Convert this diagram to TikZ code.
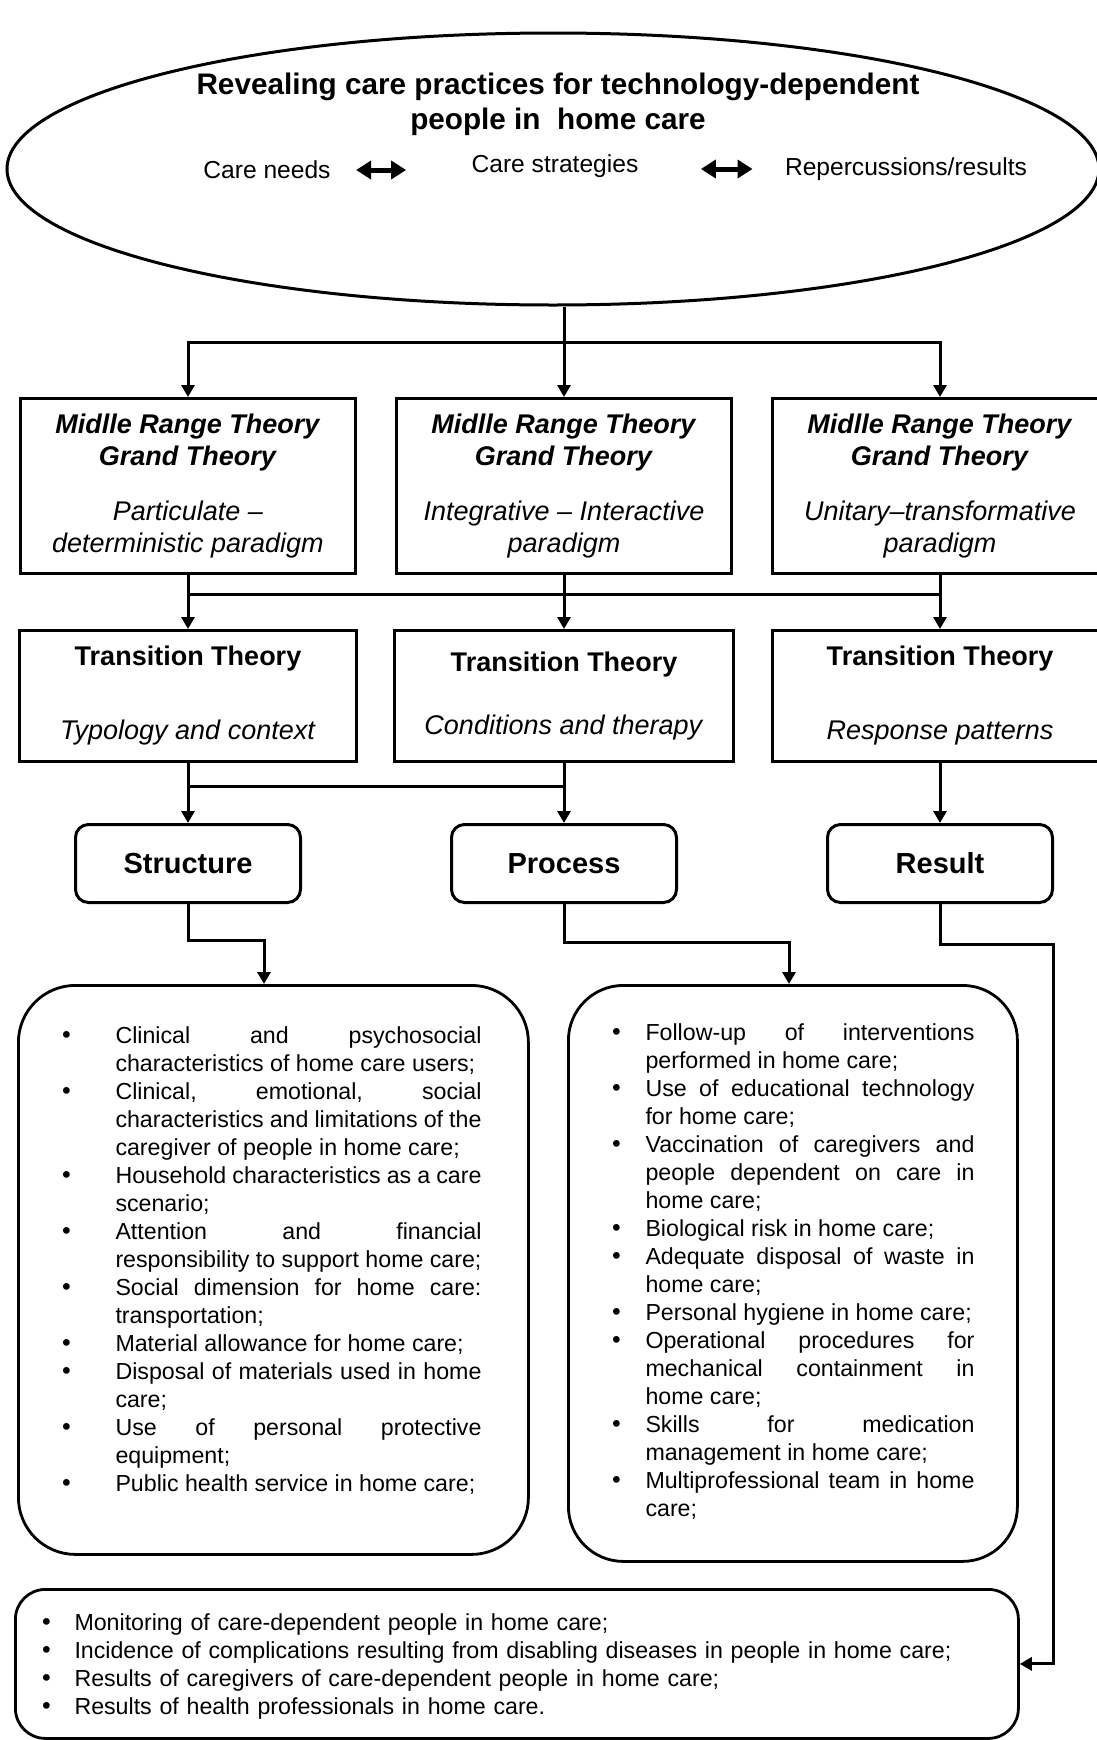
\documentclass[tikz,border=0pt]{standalone}
\usepackage{fontspec}
\setmainfont{Liberation Sans}
\newfontfamily\bulfont{DejaVu Sans}
\usetikzlibrary{arrows.meta,shapes.geometric,calc}

\hyphenpenalty=10000
\exhyphenpenalty=10000
\tolerance=10000
\hbadness=10000

\newcommand\bitem[2]{\noindent\hangindent=#1\hangafter=1\hbox to #1{\hskip-3pt{\bulfont •}\hfil}#2\par}
\newcommand\thy[1]{\textbf{\textit{#1}}}

\begin{document}
\begin{tikzpicture}[x=1pt,y=-1pt,line width=3pt,
    >={Triangle[length=12pt,width=13pt]},
    paradigm/.style={draw,anchor=north west,minimum width=335pt,minimum height=175pt,inner sep=0pt,align=center,font=\fontsize{27}{32}\selectfont},
    transition/.style={draw,anchor=north west,minimum height=131pt,inner sep=0pt,align=center,font=\fontsize{27}{32}\selectfont},
    stage/.style={draw,rounded corners=13pt,anchor=north west,minimum width=225pt,minimum height=78pt,inner sep=0pt,font=\fontsize{29}{34}\selectfont\bfseries},
    listbox/.style={draw,line width=2.8pt,anchor=north west,inner sep=0pt},
    listtext/.style={anchor=north west,inner sep=0pt,font=\fontsize{23.2}{28}\selectfont},
    dbl/.style={line width=5pt,arrows={Triangle[length=15pt,width=18pt]-Triangle[length=15pt,width=18pt]}}]
        \useasboundingbox (0,0) rectangle (1097,1740);

        % top ellipse
        \node[draw,ellipse,minimum width=1092pt,minimum height=272pt,inner sep=0pt] (top) at (553,169) {};
        \node[align=center,font=\fontsize{29.7}{35}\selectfont\bfseries] (title) at (558,104) {Revealing care practices for technology-dependent\\people in\ \ home care};
        \node[inner sep=0pt,font=\fontsize{24.6}{29}\selectfont] (need) at (267,170) {Care needs};
        \node[inner sep=0pt,font=\fontsize{24.6}{29}\selectfont] (strat) at (555,166) {Care strategies};
        \node[inner sep=0pt,font=\fontsize{24.6}{29}\selectfont] (rep) at (906,169) {Repercussions/results};
        \draw[dbl,shorten <=24pt,shorten >=64pt] (need.east) -- (need.east -| strat.west);
        \draw[dbl,shorten <=61pt,shorten >=31pt] (rep.west -| strat.east) -- (rep.west);

        \coordinate (j1) at (0,342);
        \coordinate (j2) at (0,594);
        \coordinate (j3) at (0,786);
        \coordinate (k1) at (264,940);
        \coordinate (k2) at (789,942);
        \coordinate (k3) at (1053,944);

        % theories
        \node[paradigm] (m1) at (19,397) {\thy{Midlle Range Theory}\\\thy{Grand Theory}\\[23pt]\textit{Particulate –}\\\textit{deterministic paradigm}};
        \node[paradigm] (m2) at (395,397) {\thy{Midlle Range Theory}\\\thy{Grand Theory}\\[23pt]\textit{Integrative – Interactive}\\\textit{paradigm}};
        \node[paradigm] (m3) at (771,397) {\thy{Midlle Range Theory}\\\thy{Grand Theory}\\[23pt]\textit{Unitary–transformative}\\\textit{paradigm}};

        \node[transition,minimum width=337pt] (t1) at (18,629) {\textbf{Transition Theory}\\[42pt]\textit{Typology and context}};
        \node[transition,minimum width=339pt] (t2) at (393,629) {\textbf{Transition Theory}\\[31pt]\textit{Conditions and therapy}};
        \node[transition,minimum width=335pt] (t3) at (771,629) {\textbf{Transition Theory}\\[42pt]\textit{Response patterns}};

        \node[stage] (s1) at (74,823) {Structure};
        \node[stage] (s2) at (450,823) {Process};
        \node[stage] (s3) at (826,823) {Result};

        % lists
        \node[listbox,rounded corners=57pt,minimum width=510pt,minimum height=569pt] (list1) at (17,984) {};
        \node[listbox,rounded corners=55pt,minimum width=449pt,minimum height=576pt] (list2) at (567,984) {};
        \node[listbox,rounded corners=30pt,minimum width=1003pt,minimum height=149pt] (list3) at (14,1588) {};

        \node[listtext,text width=419pt,align=justify] (needs) at (61,1022) {%
            \bitem{53pt}{\strut Clinical and psychosocial\linebreak characteristics of home care users;}
            \bitem{53pt}{Clinical, emotional, social\linebreak characteristics and limitations of the\linebreak caregiver of people in home care;}
            \bitem{53pt}{Household characteristics as a care\linebreak scenario;}
            \bitem{53pt}{Attention and financial\linebreak responsibility to support home care;}
            \bitem{53pt}{Social dimension for home care:\linebreak transportation;}
            \bitem{53pt}{Material allowance for home care;}
            \bitem{53pt}{Disposal of materials used in home\linebreak care;}
            \bitem{53pt}{Use of personal protective\linebreak equipment;}
            \bitem{53pt}{Public health service in home care;}};
        \node[listtext,text width=362pt,align=justify] (care) at (611,1019) {%
            \bitem{33pt}{\strut Follow-up of interventions\linebreak performed in home care;}
            \bitem{33pt}{Use of educational technology\linebreak for home care;}
            \bitem{33pt}{Vaccination of caregivers and\linebreak people dependent on care in\linebreak home care;}
            \bitem{33pt}{Biological risk in home care;}
            \bitem{33pt}{Adequate disposal of waste in\linebreak home care;}
            \bitem{33pt}{Personal hygiene in home care;}
            \bitem{33pt}{Operational procedures for\linebreak mechanical containment in\linebreak home care;}
            \bitem{33pt}{Skills for medication\linebreak management in home care;}
            \bitem{33pt}{Multiprofessional team in home\linebreak care;}};
        \node[listtext,text width=960pt,align=left] (results) at (41,1609) {%
            \bitem{32pt}{\strut Monitoring of care-dependent people in home care;}
            \bitem{32pt}{Incidence of complications resulting from disabling diseases in people in home care;}
            \bitem{32pt}{Results of caregivers of care-dependent people in home care;}
            \bitem{32pt}{Results of health professionals in home care.}};

        % connectors
        \draw[->] (top.south -| m2.north) -- (m2.north);
        \draw[->] (m2.north |- j1) -| (m1.north);
        \draw[->] (m2.north |- j1) -| (m3.north);
        \draw[->] (m1.south) -- (t1.north);
        \draw[->] (m2.south) -- (t2.north);
        \draw[->] (m3.south) -- (t3.north);
        \draw (m1.south |- j2) -- (m3.south |- j2);
        \draw[->] (t1.south) -- (s1.north);
        \draw[->] (t2.south) -- (s2.north);
        \draw (t1.south |- j3) -- (t2.south |- j3);
        \draw[->] (t3.south) -- (s3.north);
        \draw[->] (s1.south) |- (k1) -- (k1 |- list1.north);
        \draw[->] (s2.south) |- (k2) -- (k2 |- list2.north);
        \draw[->] (s3.south) |- (k3) |- (list3.east);
        % \draw (list1.south) -- (list3.north);
    \end{tikzpicture}
\end{document}
